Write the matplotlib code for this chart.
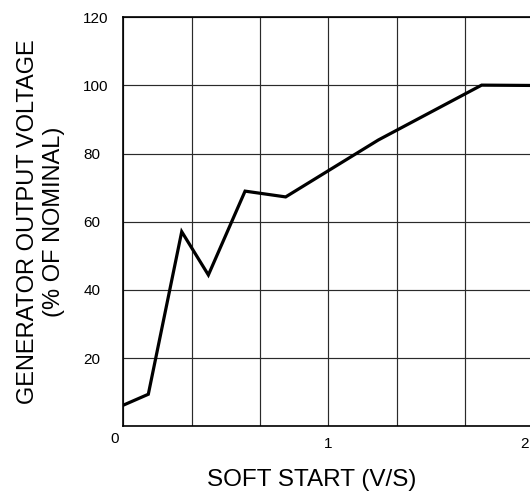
import numpy as np
import matplotlib.pyplot as plt
import matplotlib.transforms as mtransforms

# soft start curve
soft_start = [0.0, 0.122, 0.285, 0.415, 0.594, 0.792, 1.244, 1.748, 2.0]
output_pct = [6.2, 9.4, 57.1, 44.4, 69.0, 67.3, 84.0, 100.1, 100.0]

x_ticks = [0, 1/3, 2/3, 1, 4/3, 5/3, 2]
x_tick_labels = ['0', '', '', '1', '', '', '2']
y_ticks = [0, 20, 40, 60, 80, 100, 120]
y_tick_labels = ['', '20', '40', '60', '80', '100', '120']

plt.rcParams['font.family'] = ['Liberation Sans', 'DejaVu Sans']

fig = plt.figure(figsize=(5.3, 4.91), dpi=100)
ax = fig.add_axes([123.3/530, 64.7/491, 410/530, 409/491])

ax.plot(soft_start, output_pct, color='black', lw=2.3, solid_joinstyle='miter')

ax.set_xlim(0, 2)
ax.set_ylim(0, 120)
ax.set_xticks(x_ticks)
ax.set_xticklabels(x_tick_labels, fontsize=11)
ax.set_yticks(y_ticks)
ax.set_yticklabels(y_tick_labels, fontsize=11, ha='left')
ax.tick_params(axis='y', length=0, pad=28.8)
ax.tick_params(axis='x', length=0, pad=8)
ax.grid(True, color='#2a2a2a', lw=0.85)

for s in ['left', 'bottom', 'top']:
    ax.spines[s].set_linewidth(1.2)
ax.spines['right'].set_visible(False)

# nudge the x tick labels like the original
offsets = {'0': (-9, 5), '2': (-9, 0)}
for lab in ax.get_xticklabels():
    dx, dy = offsets.get(lab.get_text(), (0, 0))
    lab.set_transform(lab.get_transform() +
                      mtransforms.ScaledTranslation(dx/100, dy/100, fig.dpi_scale_trans))

ax.set_xlabel('SOFT START (V/S)', fontsize=17.5)
ax.xaxis.set_label_coords(0.46, -0.105)
ax.set_ylabel('GENERATOR OUTPUT VOLTAGE\n(% OF NOMINAL)', fontsize=17, multialignment='center',
              linespacing=1.25)
ax.yaxis.set_label_coords(-0.142, 0.5)

fig.savefig('out.png', dpi=100)
